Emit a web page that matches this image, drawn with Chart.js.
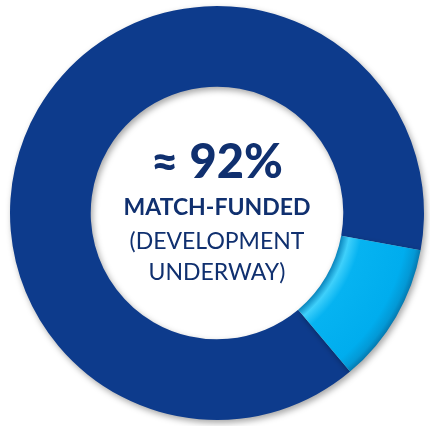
<!DOCTYPE html>
<html><head><meta charset="utf-8">
<script src="https://cdn.jsdelivr.net/npm/chart.js@4/dist/chart.umd.min.js"></script>
<style>
html,body{margin:0;padding:0;background:#fff;}
#wrap{position:relative;width:430px;height:426px;}
canvas{position:absolute;left:0;top:0;}
.t{position:absolute;left:0;width:434px;text-align:center;color:#10306f;font-family:Lato,"Open Sans",sans-serif;white-space:nowrap;line-height:1;}
</style></head>
<body>
<div id="wrap">
<canvas id="c" width="430" height="426"></canvas>
<div class="t" id="l1" style="top:137px;font-size:47px;font-weight:900;">≈ 92%</div>
<div class="t" id="l2" style="top:195px;font-size:23px;font-weight:700;">MATCH-FUNDED</div>
<div class="t" id="l3" style="top:229px;font-size:23px;font-weight:400;">(DEVELOPMENT</div>
<div class="t" id="l4" style="top:260px;font-size:23px;font-weight:400;">UNDERWAY)</div>
</div>
<script>
const categories = ["Development underway (match-funded)", "Other"];
const shareValues = [89, 11];
const baseColors = ["#0d3b8c", "#00b0f0"];

function ringGradient(ctx, dark) {
  const chart = ctx.chart;
  const meta = chart.getDatasetMeta(0);
  const arc = meta && meta.data && meta.data[0];
  if (!chart.chartArea || !arc || !arc.outerRadius) return dark ? baseColors[0] : baseColors[1];
  const g = chart.ctx.createRadialGradient(arc.x, arc.y, arc.innerRadius, arc.x, arc.y, arc.outerRadius);
  if (dark) {
    g.addColorStop(0, "#072458");
    g.addColorStop(0.06, "#0a3079");
    g.addColorStop(0.12, "#1a4ea3");
    g.addColorStop(0.25, "#0e3d8f");
    g.addColorStop(0.8, "#0c3a8a");
    g.addColorStop(0.93, "#0a3380");
    g.addColorStop(1, "#062560");
  } else {
    g.addColorStop(0, "#0a86be");
    g.addColorStop(0.1, "#3fd0fb");
    g.addColorStop(0.25, "#06b3f1");
    g.addColorStop(0.8, "#00adee");
    g.addColorStop(0.93, "#0399d6");
    g.addColorStop(1, "#0479b0");
  }
  return g;
}

const shadowPlugin = {
  id: "shadow",
  beforeDatasetsDraw(chart) {
    const c = chart.ctx;
    c.save();
    c.shadowColor = "rgba(0,0,0,0.35)";
    c.shadowBlur = 6;
    c.shadowOffsetX = 2;
    c.shadowOffsetY = 3;
  },
  afterDatasetsDraw(chart) { chart.ctx.restore(); }
};

new Chart(document.getElementById("c"), {
  type: "doughnut",
  data: {
    labels: categories,
    datasets: [{
      data: shareValues,
      backgroundColor: (ctx) => ringGradient(ctx, ctx.dataIndex === 0),
      borderWidth: 0,
      hoverOffset: 0
    }]
  },
  options: {
    responsive: false,
    animation: false,
    cutout: "61%",
    rotation: 140,
    layout: { padding: { left: 10, right: 6, top: 4, bottom: 4 } },
    plugins: { legend: { display: false }, tooltip: { enabled: false } }
  },
  plugins: [shadowPlugin]
});
</script>
</body></html>
